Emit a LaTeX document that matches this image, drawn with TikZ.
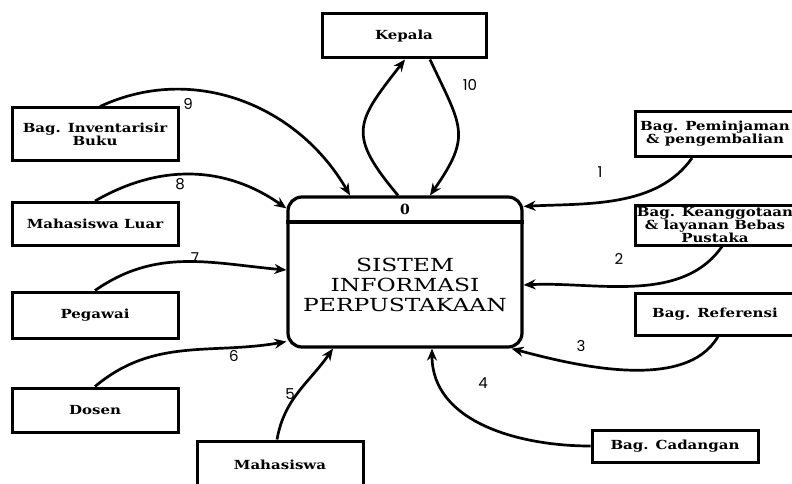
\documentclass[tikz,border=0pt]{standalone}
\usepackage{fontspec}
\setmainfont{DejaVu Serif}
\newfontfamily\numfont{Poppins}
\newfontfamily\boxfont{DejaVu Serif}[FakeStretch=1.2]
\newfontfamily\sysfont{DejaVu Serif}[FakeStretch=1.3]
\usetikzlibrary{arrows.meta}

\begin{document}
\begin{tikzpicture}[x=1pt,y=-1pt,
    entity/.style={draw,line width=3pt,minimum width=166pt,minimum height=44pt,
      align=center,inner sep=1pt,font=\boxfont\bfseries\fontsize{12.5}{13}\selectfont},
    flow/.style={line width=2.7pt,-{Stealth[length=12pt,width=10pt]}},
    num/.style={font=\numfont\fontsize{15}{16}\selectfont}]
  \useasboundingbox (0,0) rectangle (792,484);
  % proses utama
  \node[draw,line width=3.2pt,rounded corners=14pt,minimum width=234pt,
    minimum height=150pt] (sys) at (405,272) {};
  \draw[line width=3.2pt] (sys.west |- 0,222) -- (sys.east |- 0,222);
  \node[font=\bfseries\fontsize{14}{15}\selectfont] (0) at (405,209) {0};
  \node[align=center,font=\sysfont\fontsize{18}{20}\selectfont] (systxt) at (405,285)
    {SISTEM\\INFORMASI\\PERPUSTAKAAN};
  % entitas luar
  \node[entity,minimum width=164pt] (kepala) at (404,36) {Kepala};
  \node[entity,minimum height=52pt] (inventarisir) at (95,134) {Bag. Inventarisir\\Buku};
  \node[entity,minimum height=43pt] (mhsluar) at (95,224) {Mahasiswa Luar};
  \node[entity,minimum height=46pt] (pegawai) at (95,315) {Pegawai};
  \node[entity] (dosen) at (95,410) {Dosen};
  \node[entity,minimum height=48pt] (mahasiswa) at (280,465) {Mahasiswa};
  \node[entity,minimum width=160pt,minimum height=45pt] (peminjaman) at (715,134)
    {Bag. Peminjaman\\\& pengembalian};
  \node[entity,minimum width=160pt,minimum height=40pt,
    font=\boxfont\bfseries\fontsize{12.5}{12}\selectfont] (keanggotaan) at (715,225)
    {Bag. Keanggotaan\\\& layanan Bebas\\Pustaka};
  \node[entity,minimum width=160pt,minimum height=42pt] (referensi) at (715,314) {Bag. Referensi};
  \node[entity,minimum height=32pt] (cadangan) at (675,446) {Bag. Cadangan};
  % aliran data
  \begin{scope}[flow]
    \draw ([xshift=-7pt]sys.north) to[out=130,in=232,looseness=1.5] ([xshift=1pt]kepala.south);
    \draw ([xshift=26pt]kepala.south) to[out=-65,in=55,looseness=1.4] ([xshift=25pt]sys.north);
    \draw ([xshift=5pt]inventarisir.north) to[out=25,in=120] ([xshift=-55pt]sys.north);
    \draw (mhsluar.north) to[out=30,in=145] ([yshift=-13pt]sys.north west);
    \draw (pegawai.north) to[out=35,in=175] ([yshift=2pt]sys.west);
    \draw (dosen.north) to[out=40,in=190] ([yshift=7pt]sys.south west);
    \draw ([xshift=-3pt]mahasiswa.north) to[out=80,in=235] ([xshift=-72pt]sys.south);
    \draw (cadangan.west) to[out=180,in=270] ([xshift=27pt]sys.south);
    \draw ([xshift=3pt]referensi.south) to[out=240,in=-15,looseness=0.8] ([xshift=-12pt]sys.south east);
    \draw ([xshift=7pt]keanggotaan.south) to[out=235,in=3,looseness=0.9] ([yshift=-13pt]sys.east);
    \draw ([xshift=-23pt]peminjaman.south) to[out=235,in=3,looseness=0.9] ([yshift=-11pt]sys.north east);
  \end{scope}
  % nomor aliran
  \node[num] (n1) at (600,172) {1};
  \node[num] (n2) at (619,259) {2};
  \node[num] (n3) at (581,346) {3};
  \node[num] (n4) at (483,383) {4};
  \node[num] (n5) at (290,394) {5};
  \node[num] (n6) at (234,356) {6};
  \node[num] (n7) at (195,258) {7};
  \node[num] (n8) at (180,184) {8};
  \node[num] (n9) at (188,104) {9};
  \node[num] (n10) at (470,85) {10};
\end{tikzpicture}
\end{document}
